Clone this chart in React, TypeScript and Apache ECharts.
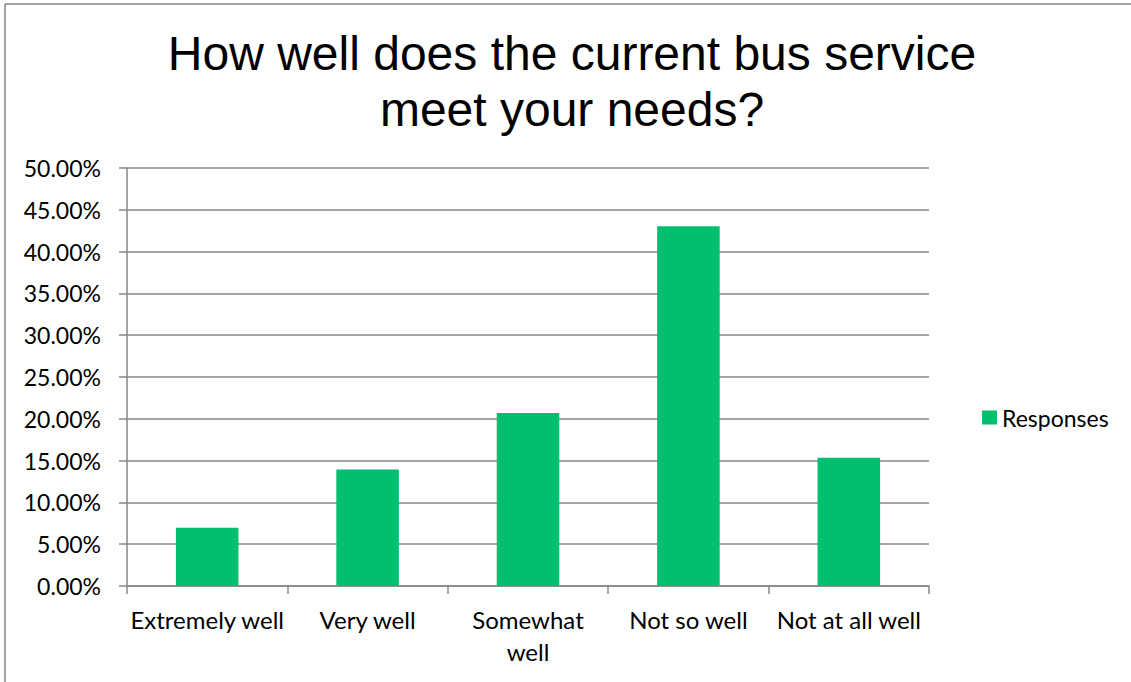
import React, { useEffect, useRef } from "react";
import * as echarts from "echarts";

const categories = ["Extremely well", "Very well", "Somewhat\nwell", "Not so well", "Not at all well"];
const responses = [0.0698, 0.1395, 0.207, 0.4302, 0.1535];
const seriesName = "Responses";
const titleText = "How well does the current bus service\nmeet your needs?";

export default function App() {
  const ref = useRef<HTMLDivElement>(null);
  useEffect(() => {
    if (!ref.current) return;
    const chart = echarts.init(ref.current, null, { renderer: "svg" });
    const labelFont = "Lato";
    const gray = "#878787";
    chart.setOption({
      animation: false,
      backgroundColor: "#ffffff",
      title: {
        text: titleText,
        left: 567,
        textAlign: "center",
        top: 20,
        textStyle: {
          fontFamily: "Liberation Sans",
          fontSize: 48,
          fontWeight: "normal",
          color: "#000",
          lineHeight: 56,
        },
      },
      graphic: [
        {
          type: "line",
          shape: { x1: 5, y1: 4, x2: 1131, y2: 4 },
          style: { stroke: gray, lineWidth: 1.5 },
          silent: true,
        },
        {
          type: "line",
          shape: { x1: 5, y1: 4, x2: 5, y2: 682 },
          style: { stroke: gray, lineWidth: 1.5 },
          silent: true,
        },
      ],
      legend: {
        data: [seriesName],
        left: 977,
        top: 401,
        itemWidth: 15,
        itemHeight: 14,
        icon: "rect",
        textStyle: { fontFamily: labelFont, fontSize: 23, color: "#000", lineHeight: 22 },
      },
      grid: { left: 127, right: 202, top: 168, bottom: 96, containLabel: false },
      xAxis: {
        type: "category",
        data: categories,
        axisLine: { show: true, lineStyle: { color: gray, width: 1.5 } },
        axisTick: { show: true, length: 8, alignWithLabel: false, lineStyle: { color: gray, width: 1.5 } },
        axisLabel: {
          fontFamily: labelFont,
          fontSize: 24,
          color: "#000",
          lineHeight: 32,
          margin: 17,
          interval: 0,
        },
      },
      yAxis: {
        type: "value",
        min: 0,
        max: 0.5,
        interval: 0.05,
        axisLine: { show: true, lineStyle: { color: gray, width: 1.5 } },
        axisTick: { show: true, length: 8, lineStyle: { color: gray, width: 1.5 } },
        splitLine: { show: true, lineStyle: { color: gray, width: 1.5 } },
        axisLabel: {
          fontFamily: labelFont,
          fontSize: 23,
          color: "#000",
          margin: 26,
          formatter: (v: number) => (v * 100).toFixed(2) + "%",
        },
      },
      series: [
        {
          name: seriesName,
          type: "bar",
          data: responses,
          barCategoryGap: "61%",
          itemStyle: { color: "#00BF6F" },
        },
      ],
    });
    return () => chart.dispose();
  }, []);
  return (
    <div
      ref={ref}
      style={{ position: "absolute", left: 0, top: 0, width: 1131, height: 682 }}
    />
  );
}
